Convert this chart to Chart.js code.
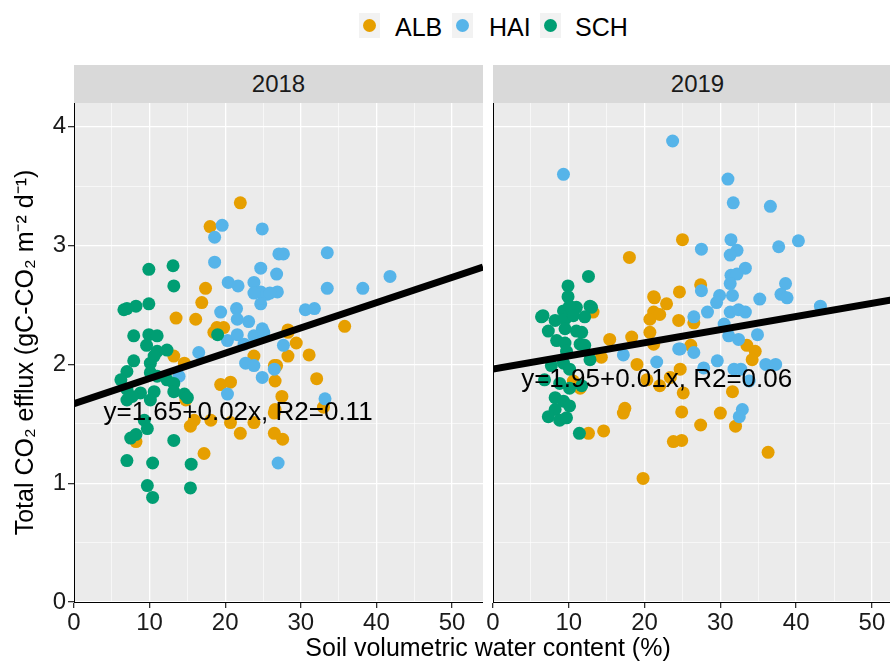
<!DOCTYPE html>
<html>
<head>
<meta charset="utf-8">
<script src="https://cdn.jsdelivr.net/npm/chart.js@4.4.1/dist/chart.umd.min.js"></script>
<style>
  body { margin: 0; width: 890px; height: 661px; overflow: hidden; background: #fff; position: relative;
         font-family: "Liberation Sans", Arial, sans-serif; color: #1a1a1a; }
  .abs { position: absolute; }
  .key { position: absolute; top: 13px; width: 21px; height: 25px; background: #f2f2f2; }
  .key span { position: absolute; left: 4px; top: 6px; width: 13px; height: 13px; border-radius: 50%; }
  .lab { position: absolute; top: 12px; font-size: 25px; line-height: 30px; color: #000; }
  .strip { position: absolute; top: 65px; width: 409px; height: 38px; background: #d9d9d9;
           font-size: 24px; line-height: 38px; text-align: center; }
  #xtitle { position: absolute; left: 74px; width: 828px; top: 632px; font-size: 25px; line-height: 30px;
            text-align: center; color: #000; }
</style>
</head>
<body>

<div class="key" style="left:359px"><span style="background:#E69F00"></span></div>
<div class="lab" style="left:395px">ALB</div>
<div class="key" style="left:452px"><span style="background:#56B4E9"></span></div>
<div class="lab" style="left:489px">HAI</div>
<div class="key" style="left:540px"><span style="background:#009E73"></span></div>
<div class="lab" style="left:575px">SCH</div>

<div class="strip" style="left:74px">2018</div>
<div class="strip" style="left:493px">2019</div>

<div class="abs" style="left:0;top:90px"><canvas id="c2018" width="483" height="571"></canvas></div>
<div class="abs" style="left:483px;top:90px"><canvas id="c2019" width="420" height="571"></canvas></div>

<div id="xtitle">Soil volumetric water content (%)</div>

<script>
// soil water content (%) vs total CO2 efflux
const alb2018 = [[22.0,3.36],[18.0,3.16],[17.4,2.64],[16.9,2.52],[13.5,2.39],[16.1,2.38],[18.9,2.31],[19.8,2.31],
  [28.3,2.29],[35.8,2.32],[28.3,2.27],[29.4,2.18],[28.3,2.07],[31.1,2.08],[26.8,1.99],[26.6,1.86],[32.1,1.88],
  [27.5,1.73],[33.0,1.64],[26.6,1.62],[27.6,1.37],[18.5,2.27],[13.2,2.07],[14.6,2.01],[23.8,2.07],[26.5,1.99],
  [19.4,1.83],[20.7,1.85],[14.8,1.70],[15.4,1.48],[15.9,1.53],[18.1,1.53],[20.7,1.51],[22.0,1.42],[23.8,1.51],
  [26.5,1.59],[26.5,1.42],[8.2,1.35],[17.2,1.25]];
const hai2018 = [[19.6,3.17],[24.9,3.14],[18.6,3.07],[27.1,2.93],[18.6,2.86],[24.7,2.81],[26.8,2.76],[20.4,2.69],
  [21.7,2.66],[23.8,2.69],[24.7,2.61],[23.8,2.60],[25.5,2.59],[26.9,2.61],[24.7,2.51],[19.4,2.44],[21.5,2.47],
  [21.6,2.38],[23.1,2.36],[24.9,2.30],[27.7,2.93],[33.5,2.94],[25.9,2.60],[33.5,2.64],[38.2,2.64],[41.8,2.74],
  [30.6,2.46],[31.8,2.47],[27.7,2.16],[33.2,1.71],[27.0,1.17],[16.5,2.10],[20.3,2.20],[21.6,2.25],[22.5,2.17],
  [23.8,2.24],[25.1,2.27],[22.7,2.01],[23.8,1.99],[24.9,1.89],[26.5,1.96],[13.9,1.90],[20.3,1.75]];
const sch2018 = [[9.9,2.80],[13.1,2.83],[13.2,2.66],[9.9,2.51],[6.6,2.46],[8.2,2.49],[7.0,2.47],[7.9,2.24],
  [9.9,2.25],[11.0,2.24],[19.0,2.25],[11.0,2.11],[12.3,2.12],[7.9,2.03],[10.1,2.01],[10.6,2.07],[9.6,2.16],
  [7.0,1.94],[6.2,1.87],[10.1,1.93],[11.0,1.90],[12.3,1.87],[13.2,1.84],[7.0,1.79],[8.8,1.76],[10.6,1.77],
  [7.7,1.73],[7.0,1.70],[10.1,1.70],[13.2,1.77],[14.6,1.75],[15.0,1.72],[9.3,1.53],[9.7,1.46],[7.5,1.38],
  [8.2,1.41],[13.2,1.36],[7.0,1.19],[10.4,1.17],[15.5,1.16],[9.7,0.98],[10.4,0.88],[15.4,0.96]];

const alb2019 = [[25.0,3.05],[18.0,2.90],[21.3,2.56],[22.9,2.51],[24.6,2.61],[13.2,2.44],[15.4,2.21],[14.3,2.06],
  [18.3,2.23],[19.0,2.00],[21.2,2.57],[21.2,2.44],[20.7,2.38],[22.0,2.42],[20.7,2.27],[21.2,2.17],[24.5,2.37],
  [20.3,1.87],[22.0,1.82],[23.4,1.89],[25.1,1.76],[11.5,1.80],[10.6,1.86],[17.4,1.63],[17.2,1.59],[24.9,1.60],
  [23.8,1.35],[24.9,1.36],[12.6,1.42],[14.6,1.44],[19.8,1.04],[27.4,2.67],[26.5,2.35],[33.5,2.16],[34.6,2.11],
  [34.2,2.04],[26.1,2.16],[24.7,1.96],[31.6,1.77],[30.0,1.59],[27.4,1.49],[32.0,1.48],[36.3,1.26]];
const hai2019 = [[23.7,3.88],[9.3,3.60],[31.0,3.56],[31.7,3.36],[36.6,3.33],[27.5,2.97],[31.4,3.05],[32.2,2.96],
  [31.3,2.92],[37.7,2.99],[40.3,3.04],[33.3,2.81],[31.4,2.75],[32.2,2.76],[31.3,2.68],[38.6,2.68],[38.0,2.59],
  [38.8,2.56],[27.5,2.62],[29.9,2.58],[29.5,2.52],[31.6,2.58],[35.2,2.55],[43.2,2.49],[28.3,2.44],[26.5,2.40],
  [31.3,2.44],[32.4,2.46],[33.3,2.44],[17.2,2.08],[21.6,2.02],[24.5,2.13],[30.5,2.34],[31.1,2.24],[32.4,2.21],
  [34.9,2.25],[26.5,2.10],[29.6,2.03],[36.0,2.00],[37.3,2.00],[27.8,1.97],[31.8,1.96],[33.8,1.86],[32.7,1.96],
  [32.9,1.62],[32.5,1.56],[24.7,2.13]];
const sch2019 = [[12.6,2.74],[9.9,2.66],[9.9,2.57],[6.6,2.41],[9.3,2.45],[11.0,2.48],[13.0,2.48],[10.1,2.49],
  [12.8,2.49],[6.4,2.40],[8.2,2.37],[9.5,2.38],[10.6,2.41],[12.1,2.40],[7.3,2.28],[9.5,2.30],[11.0,2.28],
  [11.7,2.27],[8.4,2.20],[9.5,2.18],[11.5,2.17],[12.1,2.16],[9.7,2.11],[12.8,2.04],[9.3,2.01],[10.1,1.96],
  [7.7,1.99],[6.8,1.87],[8.8,1.84],[10.1,1.80],[11.7,1.82],[8.2,1.72],[9.3,1.69],[10.1,1.65],[8.2,1.62],
  [7.3,1.56],[8.8,1.53],[9.7,1.55],[11.4,1.42]];

// fitted lines (ends at the panel edges)
const fitX = [0, 54.1];
const fit2018Y = [1.67, 2.82];
const fit2019Y = [1.96, 2.56];
const fitLabels = ["y=1.65+0.02x, R2=0.11", "y=1.95+0.01x, R2=0.06"];

const xTicks = [0, 5, 10, 15, 20, 25, 30, 35, 40, 45, 50];
const yTicks = [0, 0.5, 1, 1.5, 2, 2.5, 3, 3.5, 4];

Chart.defaults.font.family = "'Liberation Sans', Arial, sans-serif";
Chart.defaults.color = "#1a1a1a";

const panelBg = {
    id: "panelBg",
    beforeDraw(chart) {
        const a = chart.chartArea;
        const ctx = chart.ctx;
        ctx.save();
        ctx.fillStyle = "#EBEBEB";
        ctx.fillRect(a.left, a.top, a.right - a.left, a.bottom - a.top);
        ctx.restore();
    }
};

// equation text, placed in data units
const fitText = {
    id: "fitText",
    afterDatasetsDraw(chart, args, opts) {
        const ctx = chart.ctx;
        ctx.save();
        ctx.font = "26px 'Liberation Sans', Arial, sans-serif";
        ctx.fillStyle = "#000";
        ctx.textAlign = "center";
        ctx.textBaseline = "middle";
        ctx.fillText(opts.text, chart.scales.x.getPixelForValue(opts.x), chart.scales.y.getPixelForValue(opts.y));
        ctx.restore();
    }
};

let pts = arr => arr.map(p => ({x: p[0], y: p[1]}));
let isMajor = v => Math.abs(v - Math.round(v / 10) * 10) < 1e-6;

function makePanel(id, alb, hai, sch, fitY, label, labelPos, first) {
    const dot = (data, color, order) => ({
        type: "scatter", data: pts(data), backgroundColor: color, borderWidth: 0,
        pointRadius: 6.5, pointHoverRadius: 6.5, order: order
    });
    return new Chart(document.getElementById(id), {
        data: {
            datasets: [
                {
                    type: "line", data: fitX.map((x, i) => ({x: x, y: fitY[i]})),
                    borderColor: "#000", borderWidth: 7, pointRadius: 0, clip: 0, order: 0
                },
                dot(sch, "#009E73", 1),
                dot(hai, "#56B4E9", 2),
                dot(alb, "#E69F00", 3)
            ]
        },
        options: {
            responsive: false,
            animation: false,
            layout: {autoPadding: false, padding: {top: 13, left: 0, right: 0, bottom: 0}},
            plugins: {
                legend: {display: false},
                tooltip: {enabled: false},
                fitText: {text: label, x: labelPos[0], y: labelPos[1]}
            },
            scales: {
                x: {
                    type: "linear", min: 0, max: 54.1,
                    afterBuildTicks: s => { s.ticks = xTicks.map(v => ({value: v})); },
                    afterFit: s => { s.height = 59; s.paddingLeft = 0; s.paddingRight = 0; },
                    ticks: {
                        autoSkip: false, maxRotation: 0, padding: 1,
                        font: {size: 24}, color: "#1a1a1a",
                        callback: v => isMajor(v) ? v : ""
                    },
                    grid: {
                        color: "#fff",
                        lineWidth: c => (c.tick && isMajor(c.tick.value)) ? 1.3 : 0.6,
                        tickColor: c => (c.tick && isMajor(c.tick.value)) ? "#333" : "rgba(0,0,0,0)",
                        tickLength: 6
                    },
                    border: {display: true, color: "#000", width: 1}
                },
                y: {
                    type: "linear", min: 0, max: 4.2,
                    afterBuildTicks: s => { s.ticks = yTicks.map(v => ({value: v})); },
                    afterFit: s => { s.width = first ? 74 : 10; s.paddingTop = 0; s.paddingBottom = 0; },
                    ticks: {
                        display: first, padding: 2,
                        font: {size: 24}, color: "#1a1a1a",
                        callback: v => Number.isInteger(v) ? v : ""
                    },
                    grid: {
                        color: "#fff",
                        lineWidth: c => (c.tick && Number.isInteger(c.tick.value)) ? 1.3 : 0.6,
                        tickColor: c => (c.tick && Number.isInteger(c.tick.value)) ? "#333" : "rgba(0,0,0,0)",
                        tickLength: 6,
                        drawTicks: first
                    },
                    border: {display: true, color: "#000", width: 1},
                    title: {
                        display: first,
                        text: "Total CO\u2082 efflux (gC-CO\u2082 m\u207B\u00B2 d\u207B\u00B9)",
                        font: {size: 25}, color: "#000",
                        padding: {top: 11, bottom: 0}
                    }
                }
            }
        },
        plugins: [panelBg, fitText]
    });
}

makePanel("c2018", alb2018, hai2018, sch2018, fit2018Y, fitLabels[0], [21.7, 1.59], true);
makePanel("c2019", alb2019, hai2019, sch2019, fit2019Y, fitLabels[1], [21.6, 1.87], false);
</script>
</body>
</html>
